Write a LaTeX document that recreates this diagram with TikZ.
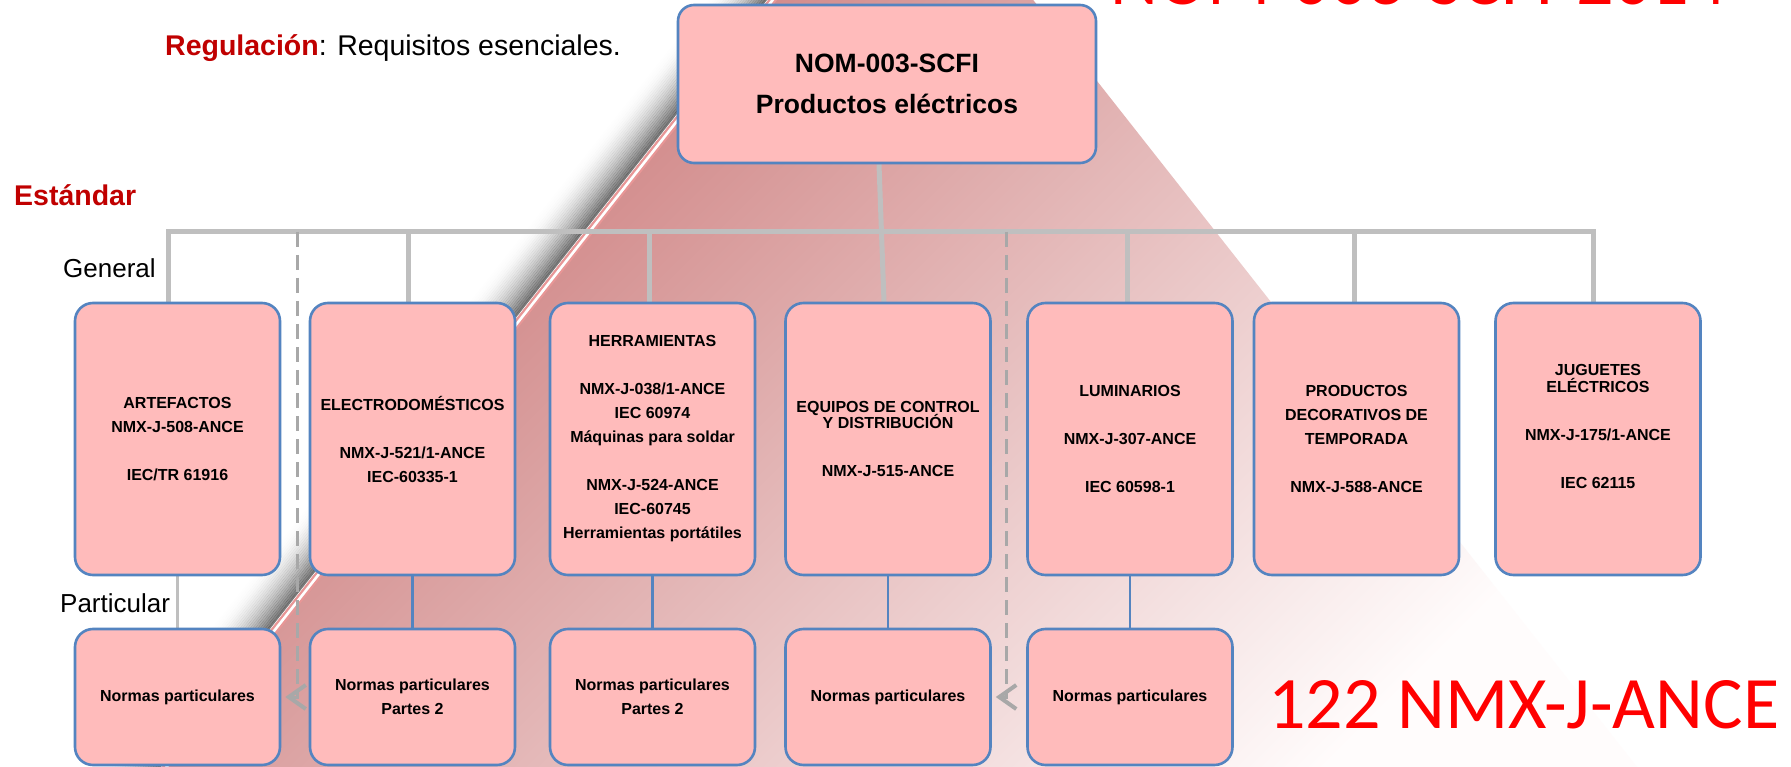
\documentclass[tikz,border=0pt]{standalone}
\usepackage{fontspec}
\setmainfont{Liberation Sans}
\newfontfamily\calibfont{Carlito}
\usetikzlibrary{arrows.meta}
\definecolor{boxfill}{RGB}{255,187,187}
\definecolor{boxline}{RGB}{84,132,192}
\definecolor{gconncol}{RGB}{191,191,191}
\definecolor{dashcol}{RGB}{168,168,168}
\definecolor{regred}{RGB}{192,0,0}
\definecolor{pyrtop}{RGB}{196,104,104}
\definecolor{pyrbot}{RGB}{255,252,252}
\definecolor{edgepink}{RGB}{232,150,150}
\definecolor{bigred}{RGB}{255,0,0}
\pgfdeclarelayer{back}
\pgfdeclarelayer{conn}
\pgfsetlayers{back,conn,main}
\begin{document}
\begin{tikzpicture}[x=1pt,y=-1pt,
  nbox/.style={draw=boxline, line width=2.6pt, fill=boxfill, rounded corners=18pt,
    inner sep=0pt, align=center, text=black,
    font=\bfseries\fontsize{16}{24}\selectfont},
  topbox/.style={nbox, minimum width=205pt, minimum height=272pt},
  botbox/.style={nbox, minimum width=205pt, minimum height=136pt},
  gconn/.style={draw=gconncol, line width=5pt},
  gthin/.style={draw=gconncol, line width=2.2pt},
  bconn/.style={draw=boxline, line width=2.2pt},
  dconn/.style={draw=dashcol, line width=3pt, dash pattern=on 15pt off 8pt,
    -{Straight Barb[length=17pt,width=24pt,line width=4pt]}, shorten >=4pt},
  plain/.style={inner sep=0pt, anchor=base west},
]
\useasboundingbox (0,0) rectangle (1791,767);

% ---- nodes ----
\node[nbox, rounded corners=16pt, minimum width=418pt, minimum height=158pt,
  font=\bfseries\fontsize{26.5}{41}\selectfont] (nom) at (887,84) {NOM-003-SCFI\\Productos eléctricos};

\node[topbox] (art) at (177.5,439) {ARTEFACTOS\\NMX-J-508-ANCE\\[24pt]IEC/TR 61916};
\node[topbox] (elec) at (412.5,439) {ELECTRODOMÉSTICOS\\[24pt]NMX-J-521/1-ANCE\\IEC-60335-1};
\node[topbox] (herr) at (652.5,439) {HERRAMIENTAS\\[24pt]NMX-J-038/1-ANCE\\IEC 60974\\Máquinas para soldar\\[24pt]NMX-J-524-ANCE\\IEC-60745\\Herramientas portátiles};
\node[topbox] (equip) at (888,439) {EQUIPOS DE CONTROL\\[-8pt]Y DISTRIBUCIÓN\\[24pt]NMX-J-515-ANCE};
\node[topbox] (lum) at (1130,439) {LUMINARIOS\\[24pt]NMX-J-307-ANCE\\[24pt]IEC 60598-1};
\node[topbox] (prod) at (1356.5,439) {PRODUCTOS\\DECORATIVOS DE\\TEMPORADA\\[24pt]NMX-J-588-ANCE};
\node[topbox] (jug) at (1598,439) {JUGUETES\\[-7pt]ELÉCTRICOS\\[24pt]NMX-J-175/1-ANCE\\[24pt]IEC 62115\\[1pt]\mbox{}};

\node[botbox] (np1) at (177.5,697) {Normas particulares};
\node[botbox] (np2) at (412.5,697) {Normas particulares\\Partes 2};
\node[botbox] (np3) at (652.5,697) {Normas particulares\\Partes 2};
\node[botbox] (np4) at (888,697) {Normas particulares};
\node[botbox] (np5) at (1130,697) {Normas particulares};

\node[plain, font=\fontsize{28.5}{34}\selectfont] (reg) at (165,55.6)
  {\textcolor{regred}{\bfseries Regulación}: Requisitos esenciales.};
\node[plain, font=\bfseries\fontsize{28.5}{34}\selectfont, text=regred] (est) at (14,206) {Estándar};
\node[plain, font=\fontsize{26}{30}\selectfont] (gen) at (63,278) {General};
\node[plain, font=\fontsize{26}{30}\selectfont] (part) at (60,612) {Particular};

\node[plain, font=\calibfont\fontsize{74}{80}\selectfont, text=bigred] (title) at (1110,5) {NOM-003-SCFI-2014};
\node[plain, font=\calibfont\fontsize{74}{80}\selectfont, text=bigred] (count) at (1268,728) {122 NMX-J-ANCE};

% ---- background pyramid ----
\begin{pgfonlayer}{back}
\fill[white] (0,0) rectangle (1791,767);
\begin{scope}
\clip (0,0) rectangle (1791,767);
\foreach \k in {1,...,24}{
  \pgfmathsetmacro\op{0.55*(1-(\k-0.5)/24)^2}
  \pgfmathsetmacro\dx{-1.57*\k}
  \pgfmathsetmacro\dy{-1.24*\k}
  \draw[black, opacity=\op, line width=2.1pt] ({901+\dx},{-168+\dy}) -- ({136+\dx},{800+\dy});
}
\shade[top color=pyrtop, bottom color=pyrbot, shading angle=45]
  (901,-168) -- (1663,800) -- (136,800) -- cycle;
\draw[edgepink, line width=7pt] (903.7,-165.8) -- (138.7,802.2);
\draw[white, line width=2.6pt] (903.7,-165.8) -- (138.7,802.2);
\end{scope}
\end{pgfonlayer}

% ---- connectors ----
\begin{pgfonlayer}{conn}
\coordinate (bus) at (0,232);
\draw[gconn] ([xshift=-9.5pt]art.north) -- ([xshift=-9.5pt]art.north |- bus)
  -- ([xshift=-5pt]jug.north |- bus) -- ([xshift=-5pt]jug.north);
\draw[gconn] ([xshift=-4.5pt]elec.north) -- ([xshift=-4.5pt]elec.north |- bus);
\draw[gconn] ([xshift=-3.5pt]herr.north) -- ([xshift=-3.5pt]herr.north |- bus);
\draw[gconn] ([xshift=-3pt]lum.north) -- ([xshift=-3pt]lum.north |- bus);
\draw[gconn] ([xshift=-2pt]prod.north) -- ([xshift=-2pt]prod.north |- bus);
\draw[gconn] ([xshift=-8pt]nom.south) -- ([xshift=-4pt]equip.north);
\coordinate (d1) at (297,232);
\coordinate (d2) at (1006,232);
\draw[dconn] (d1) |- (np1.east);
\draw[dconn] (d2) |- (np4.east);
\draw[gthin] (art.south) -- (np1.north);
\draw[bconn] (elec.south) -- (np2.north);
\draw[bconn] (herr.south) -- (np3.north);
\draw[bconn] (equip.south) -- (np4.north);
\draw[bconn] (lum.south) -- (np5.north);
\end{pgfonlayer}
\end{tikzpicture}
\end{document}
